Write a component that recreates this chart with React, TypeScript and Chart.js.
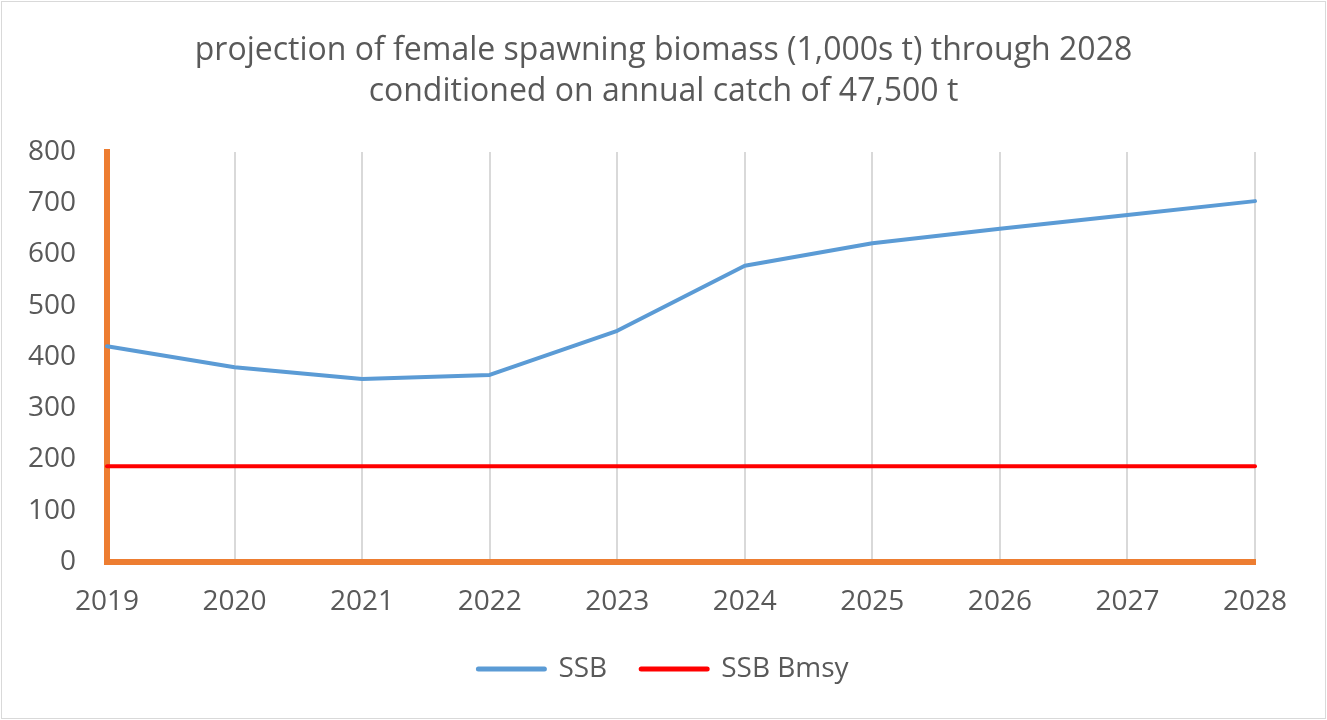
import React, { useEffect, useRef } from "react";
import { Chart, registerables } from "chart.js";

Chart.register(...registerables);

const years = ["2019", "2020", "2021", "2022", "2023", "2024", "2025", "2026", "2027", "2028"];
const ssb = [421, 380, 357, 365, 451, 578, 622, 650, 677, 704];
const ssbBmsy = [187, 187, 187, 187, 187, 187, 187, 187, 187, 187];
const titleLines = [
  "projection of female spawning biomass (1,000s t) through 2028",
  "conditioned on annual catch of 47,500 t",
];

const FONT = "'Open Sans', 'Noto Sans', sans-serif";
const GREY = "#595959";

export default function App() {
  const ref = useRef<HTMLCanvasElement | null>(null);

  useEffect(() => {
    if (!ref.current) return;
    const chart = new Chart(ref.current, {
      type: "line",
      data: {
        labels: years,
        datasets: [
          {
            label: "SSB",
            data: ssb,
            borderColor: "#5B9BD5",
            backgroundColor: "#5B9BD5",
            borderWidth: 4,
            pointRadius: 0,
            tension: 0,
            borderCapStyle: "round",
            borderJoinStyle: "round",
          },
          {
            label: "SSB Bmsy",
            data: ssbBmsy,
            borderColor: "#FF0000",
            backgroundColor: "#FF0000",
            borderWidth: 4,
            pointRadius: 0,
            tension: 0,
            borderCapStyle: "round",
          },
        ],
      },
      options: {
        responsive: false,
        animation: false,
        layout: { padding: { left: 0, right: 0, top: 0, bottom: 27 } },
        plugins: {
          title: {
            display: true,
            text: titleLines,
            color: GREY,
            font: { family: FONT, size: 32, weight: "normal", lineHeight: 1.28 },
            padding: { top: 30, bottom: 40 },
          },
          legend: {
            display: true,
            position: "bottom",
            labels: {
              usePointStyle: true,
              pointStyle: "line",
              pointStyleWidth: 66,
              color: GREY,
              font: { family: FONT, size: 28 },
              padding: 34,
              generateLabels: (c: any) =>
                c.data.datasets.map((d: any, i: number) => ({
                  text: d.label,
                  strokeStyle: d.borderColor,
                  fillStyle: d.borderColor,
                  lineWidth: 5,
                  lineCap: "round",
                  pointStyle: "line",
                  hidden: false,
                  datasetIndex: i,
                  fontColor: GREY,
                })),
            },
          },
          tooltip: { enabled: false },
        },
        scales: {
          x: {
            offset: false,
            grid: { display: true, color: "#d9d9d9", lineWidth: 2, drawTicks: false },
            border: { display: true, color: "#ED7D31", width: 6 },
            ticks: { color: GREY, font: { family: FONT, size: 28 }, padding: 23, maxRotation: 0, autoSkip: false },
            afterFit: (s: any) => {
              s.height = 59;
              s.paddingRight = 72;
            },
          },
          y: {
            min: 0,
            max: 800,
            grid: { display: false, drawTicks: false },
            border: { display: true, color: "#ED7D31", width: 6 },
            ticks: { stepSize: 100, color: GREY, font: { family: FONT, size: 28 }, padding: 31 },
            afterFit: (s: any) => {
              s.width = 107;
            },
          },
        },
      },
    });
    return () => chart.destroy();
  }, []);

  return (
    <div style={{ position: "absolute", left: 0, top: 0, width: 1327, height: 720, background: "#fff" }}>
      <canvas ref={ref} width={1327} height={720} style={{ display: "block" }} />
      <div
        style={{
          position: "absolute",
          left: 1,
          top: 1,
          width: 1325,
          height: 718,
          boxSizing: "border-box",
          border: "1px solid #d9d9d9",
          pointerEvents: "none",
        }}
      />
    </div>
  );
}
